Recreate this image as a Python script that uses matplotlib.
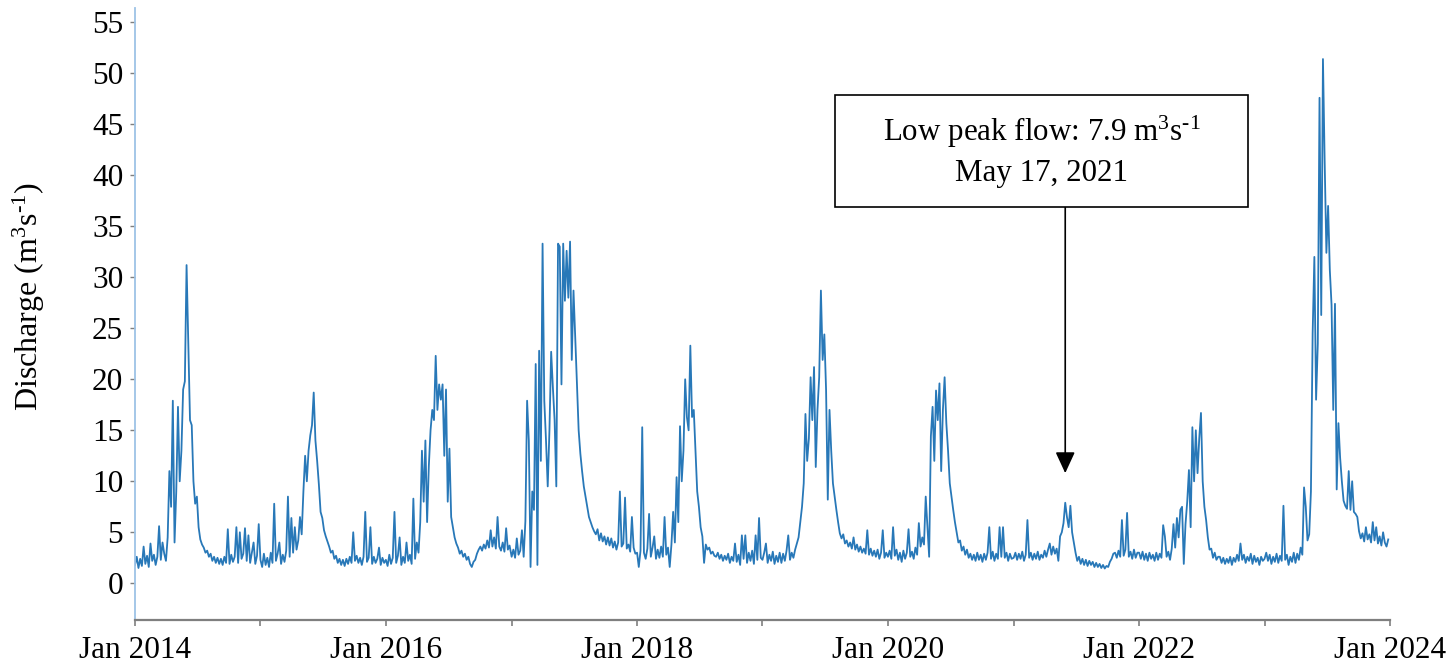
import numpy as np
import pandas as pd
import matplotlib
matplotlib.use('Agg')
import matplotlib.pyplot as plt
import matplotlib.dates as mdates
from matplotlib.patches import Rectangle
from matplotlib.ticker import FuncFormatter

plt.rcParams['font.family'] = 'Liberation Serif'
plt.rcParams['mathtext.fontset'] = 'custom'
plt.rcParams['mathtext.rm'] = 'Liberation Serif'
plt.rcParams['mathtext.it'] = 'Liberation Serif:italic'

# daily discharge, one value every 5 days from Jan 1 of each year (m3/s)
q2014 = [1.8, 2.6, 1.5, 2.4, 1.7, 3.6, 1.9, 2.7, 1.6, 3.9,
         2.2, 2.8, 1.8, 2.6, 5.6, 2.3, 4.0, 2.9, 2.2, 4.5,
         11.0, 7.5, 17.9, 4.0, 9.0, 17.3, 10.0, 13.0, 19.0, 19.8,
         31.2, 23.8, 16.0, 15.5, 10.0, 7.8, 8.5, 5.5, 4.3, 3.8,
         3.5, 3.0, 3.2, 2.6, 2.9, 2.2, 2.6, 2.0, 2.5, 1.9,
         2.4, 1.8, 2.6, 2.0, 5.3, 1.9, 2.8, 2.1, 2.6, 5.5,
         2.0, 5.0, 2.4, 2.9, 5.4, 2.2, 4.7, 2.0, 3.0, 4.0,
         1.9, 2.7, 5.8]
q2015 = [2.3, 1.6, 2.9, 1.8, 2.5, 1.6, 3.0, 2.0, 7.8, 2.2,
         2.9, 4.0, 1.9, 2.8, 2.1, 3.2, 8.5, 2.6, 6.4, 3.0,
         5.5, 3.3, 4.2, 6.5, 4.8, 9.0, 12.5, 10.0, 13.0, 14.5,
         15.5, 18.7, 14.0, 12.0, 9.7, 7.0, 6.4, 5.2, 4.6, 4.1,
         3.6, 3.0, 3.2, 2.4, 2.7, 2.0, 2.4, 1.8, 2.3, 1.7,
         2.4, 1.9, 2.6, 2.0, 5.0, 2.2, 2.7, 2.0, 2.5, 1.8,
         2.6, 7.0, 2.1, 2.5, 5.5, 1.9, 2.6, 2.0, 2.4, 3.5,
         1.8, 2.5, 2.0]
q2016 = [2.3, 1.7, 2.8, 1.9, 2.5, 7.0, 2.0, 2.7, 4.5, 1.8,
         2.6, 2.0, 4.0, 2.2, 2.8, 1.9, 8.3, 2.4, 4.0, 3.0,
         6.0, 13.0, 8.0, 14.0, 6.0, 11.5, 15.0, 17.0, 16.0, 22.3,
         17.0, 19.5, 18.0, 19.5, 12.5, 19.0, 8.0, 13.2, 6.5, 5.5,
         4.5, 3.9, 3.5, 2.9, 3.2, 2.6, 2.9, 2.3, 2.6, 1.9,
         1.6, 2.1, 2.3, 2.9, 3.3, 3.6, 3.2, 3.8, 3.4, 4.2,
         3.5, 5.2, 3.6, 4.5, 3.4, 6.5, 3.6, 3.2, 4.0, 3.1,
         5.4, 3.3, 3.7]
q2017 = [2.6, 3.3, 2.5, 4.4, 2.8, 3.2, 5.2, 2.6, 6.1, 17.9,
         14.0, 1.6, 9.0, 7.2, 21.5, 1.8, 22.8, 12.0, 33.3, 17.9,
         14.0, 9.5, 15.0, 22.7, 19.2, 16.0, 9.5, 33.3, 33.0, 19.5,
         33.3, 27.7, 32.6, 28.0, 33.5, 21.9, 28.7, 24.0, 19.6, 15.0,
         12.7, 11.0, 9.5, 8.5, 7.5, 6.5, 6.0, 5.5, 5.1, 4.8,
         5.3, 4.2, 4.9, 4.1, 4.6, 3.8, 4.5, 3.7, 4.4, 3.5,
         4.1, 3.3, 4.0, 9.0, 3.6, 3.9, 8.4, 3.4, 3.8, 3.1,
         6.5, 3.5, 2.9]
q2018 = [3.0, 1.6, 3.2, 15.3, 3.0, 2.4, 3.4, 6.8, 2.6, 3.5,
         4.6, 2.4, 3.3, 2.5, 3.6, 2.6, 6.5, 2.8, 3.5, 1.6,
         3.8, 7.0, 4.0, 10.4, 6.0, 15.4, 10.0, 13.0, 20.0, 16.3,
         15.0, 23.3, 16.3, 17.0, 13.0, 9.0, 7.5, 5.5, 4.6, 2.0,
         3.8, 3.3, 3.5, 2.9, 3.1, 2.7, 2.6, 3.0, 2.4, 2.8,
         2.2, 2.7, 2.3, 2.9, 2.0, 2.6, 2.2, 3.9, 2.1, 2.8,
         1.8, 4.7, 2.4, 4.7, 2.0, 3.0, 2.2, 3.2, 1.9, 4.7,
         2.3, 6.4, 2.5]
q2019 = [2.3, 3.0, 3.9, 2.0, 2.8, 2.2, 3.1, 1.9, 2.7, 2.1,
         3.0, 2.0, 2.9, 2.2, 3.2, 4.7, 2.3, 3.0, 2.5, 3.3,
         3.9, 4.5, 6.0, 7.5, 9.8, 16.6, 12.0, 14.2, 20.2, 16.0,
         21.2, 11.4, 17.0, 20.2, 28.7, 21.9, 24.4, 19.0, 8.2, 17.0,
         13.0, 9.8, 8.5, 7.2, 6.0, 4.9, 4.4, 4.8, 3.9, 4.2,
         3.6, 4.0, 3.4, 4.5, 3.3, 3.8, 3.1, 3.6, 3.0, 3.4,
         2.9, 5.2, 2.8, 3.4, 2.7, 3.2, 2.6, 3.3, 2.4, 3.0,
         5.2, 2.5, 3.0]
q2020 = [2.6, 3.2, 2.4, 5.5, 2.7, 3.3, 2.3, 3.0, 2.1, 3.2,
         2.4, 3.0, 5.3, 2.6, 3.1, 2.4, 3.5, 2.8, 5.9, 3.6,
         4.5, 3.8, 8.5, 5.5, 2.6, 14.4, 17.3, 12.0, 18.9, 16.0,
         19.6, 11.0, 17.0, 20.2, 15.7, 13.0, 9.8, 8.5, 7.2, 6.0,
         5.0, 4.0, 4.2, 3.2, 3.6, 2.8, 3.3, 2.5, 2.9, 2.3,
         2.8, 2.2, 3.0, 2.3, 2.8, 2.1, 2.9, 2.3, 3.0, 5.5,
         2.4, 3.1, 2.2, 2.9, 2.4, 5.5, 2.6, 5.5, 2.5, 3.0,
         2.2, 2.9, 2.4]
q2021 = [2.5, 3.0, 2.3, 2.9, 2.4, 3.1, 2.2, 2.8, 6.2, 2.5,
         3.0, 2.3, 2.9, 2.4, 3.1, 2.3, 2.8, 2.5, 3.2, 2.6,
         3.3, 3.9, 2.8, 3.6, 2.9, 3.4, 2.2, 4.6, 5.0, 5.9,
         7.9, 6.5, 5.5, 7.6, 5.0, 4.0, 3.0, 2.2, 2.6, 1.9,
         2.4, 1.8, 2.3, 1.7, 2.2, 1.8, 2.1, 1.6, 2.0, 1.6,
         1.9, 1.5, 1.8, 1.45, 1.7, 1.6, 2.1, 2.4, 2.9, 3.0,
         2.5, 3.2, 2.6, 6.2, 2.7, 3.3, 6.9, 2.6, 3.1, 2.4,
         3.3, 2.5, 3.0]
q2022 = [3.0, 2.4, 3.1, 2.3, 2.9, 2.2, 3.0, 2.4, 2.8, 2.2,
         3.0, 2.3, 2.9, 2.5, 5.7, 4.6, 2.6, 3.1, 2.3, 3.4,
         5.8, 3.5, 6.4, 4.5, 7.2, 7.5, 1.9, 5.8, 8.0, 11.1,
         5.5, 15.3, 10.0, 15.0, 10.8, 14.2, 16.7, 10.0, 7.5, 6.2,
         4.5, 3.3, 3.4, 2.5, 3.0, 2.3, 2.6, 2.6, 2.0, 2.5,
         1.9, 2.4, 2.0, 2.6, 1.8, 2.5, 2.1, 2.8, 2.2, 3.9,
         2.3, 2.8, 2.0, 2.6, 2.2, 2.9, 1.9, 2.7, 2.1, 2.5,
         1.8, 2.6, 2.2]
q2023 = [2.4, 3.0, 2.2, 2.8, 1.9, 2.6, 2.1, 2.9, 2.0, 2.7,
         2.2, 7.6, 2.3, 2.8, 1.8, 2.6, 2.1, 3.0, 2.0, 2.9,
         2.3, 3.5, 2.8, 9.4, 7.5, 4.2, 4.8, 9.0, 24.5, 32.0,
         18.0, 23.5, 47.6, 26.3, 51.4, 41.3, 32.4, 37.0, 30.7, 27.3,
         17.0, 27.4, 9.2, 15.7, 12.3, 10.0, 8.1, 7.6, 7.3, 11.0,
         7.2, 10.0, 7.0, 6.8, 6.5, 5.1, 4.4, 4.9, 4.1, 5.5,
         4.3, 4.8, 4.0, 6.0, 4.2, 5.5, 3.9, 4.6, 3.7, 5.0,
         4.0, 3.6, 4.3]

years = [2014, 2015, 2016, 2017, 2018, 2019, 2020, 2021, 2022, 2023]
yearly = [q2014, q2015, q2016, q2017, q2018, q2019, q2020, q2021, q2022, q2023]

note_lines = ['Low peak flow: 7.9 m$^{3}$s$^{\u20101}$', 'May 17, 2021']

dates = []
values = []
for yr, q in zip(years, yearly):
    d = pd.Timestamp(f'{yr}-01-01') + pd.to_timedelta(5 * np.arange(len(q)), unit='D')
    dates.extend(d)
    values.extend(q)
dates = pd.DatetimeIndex(dates)
values = np.array(values)

fig = plt.figure(figsize=(14.55, 6.71), dpi=100)
ax = fig.add_axes([0.0928, 0.076, 0.8625, 0.912])

ax.plot(dates, values, color='#2878b8', lw=1.3)

ax.set_xlim(pd.Timestamp('2014-01-01'), pd.Timestamp('2024-01-01'))
ax.set_ylim(-3.6, 56.4)
ax.set_yticks(np.arange(0, 56, 5))

ax.xaxis.set_major_locator(mdates.YearLocator())
def fmt(x, pos):
    d = mdates.num2date(x)
    return d.strftime('Jan %Y') if d.year % 2 == 0 else ''
ax.xaxis.set_major_formatter(FuncFormatter(fmt))

for s in ['top', 'right']:
    ax.spines[s].set_visible(False)
ax.spines['left'].set_color('#9dc3e6')
ax.spines['left'].set_linewidth(1.3)
ax.spines['bottom'].set_color('#7f7f7f')
ax.spines['bottom'].set_linewidth(1.6)

ax.tick_params(axis='x', direction='out', length=4.5, width=1.2, color='#7f7f7f',
               labelsize=22.5, pad=7)
ax.tick_params(axis='y', direction='out', length=3.5, width=1.0, color='#7f7f7f',
               labelsize=22.5, pad=5)

ax.set_ylabel('Discharge (m$^{3}$s$^{\u20101}$)', fontsize=23)
ax.yaxis.set_label_coords(-0.07, 0.528)

# annotation box
ax.add_patch(Rectangle((0.5578, 0.6748), 0.3291, 0.183, transform=ax.transAxes,
                       facecolor='white', edgecolor='black', lw=1.2, zorder=5))
ax.text(0.7227, 0.766, '\n'.join(note_lines), transform=ax.transAxes,
        ha='center', va='center', fontsize=22.3, linespacing=1.4, zorder=6)

i21 = int(np.argmax(q2021))
peak_date = pd.Timestamp('2021-01-01') + pd.Timedelta(days=5 * i21)
ax.annotate('', xy=(peak_date, q2021[i21] + 2.9), xycoords='data',
            xytext=(peak_date, 0.6748), textcoords=ax.get_xaxis_transform(),
            arrowprops=dict(arrowstyle='-|>,head_length=0.65,head_width=0.3',
                            color='black', lw=1.2, mutation_scale=20,
                            shrinkA=0, shrinkB=0))

fig.savefig('out.png', dpi=100)
